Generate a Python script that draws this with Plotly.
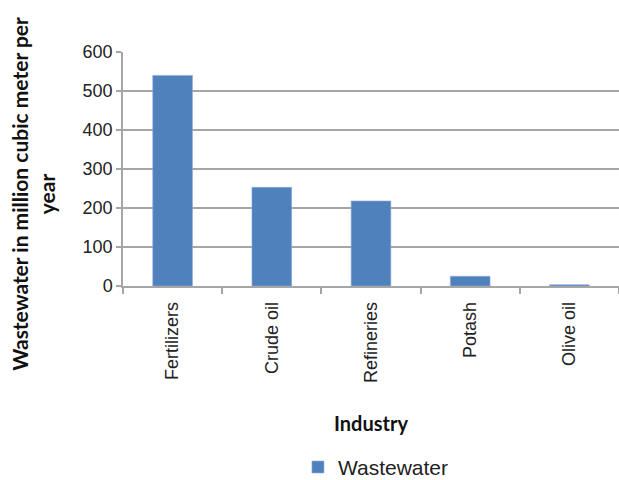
import plotly.graph_objects as go

industries = ["Fertilizers", "Crude oil", "Refineries", "Potash", "Olive oil"]
wastewater = [540, 253, 218, 25, 3]
y_ticks = [0, 100, 200, 300, 400, 500, 600]

grid = "#A6A6A6"
fig = go.Figure()
fig.add_trace(go.Bar(
    x=industries, y=wastewater, name="Wastewater",
    marker=dict(color="#4F81BD", line=dict(color="#8EAADB", width=0.6)),
    showlegend=True,
))
fig.update_layout(
    width=619, height=480,
    margin=dict(l=123, r=0, t=52, b=194, autoexpand=False),
    plot_bgcolor="white", paper_bgcolor="white",
    bargap=0.6,
    font=dict(family="Liberation Sans, Arial", size=18, color="#222222"),
    xaxis=dict(
        type="category", tickangle=-90, showline=True, linecolor=grid, linewidth=1.5,
        ticks="outside", tickson="boundaries", ticklen=6, tickcolor=grid, tickwidth=1.5,
        showgrid=False, range=[-0.5, 4.5], ticklabelstandoff=7,
        tickfont=dict(size=18, color="#222222"),
    ),
    yaxis=dict(
        range=[0, 600], tickvals=y_ticks, showline=True, linecolor=grid, linewidth=1.5,
        ticks="outside", ticklen=5, tickcolor=grid, tickwidth=1.5,
        showgrid=True, gridcolor=grid, gridwidth=1.5, zeroline=False,
        tickfont=dict(size=18, color="#222222"),
    ),
    legend=dict(
        orientation="h", x=0.51, xanchor="center", y=-0.775, yanchor="middle",
        font=dict(size=21, color="#222222"), itemwidth=30,
    ),
    annotations=[
        dict(text="<b>Industry</b>", xref="paper", yref="paper", x=0.5, y=-0.585,
             xanchor="center", yanchor="middle", showarrow=False,
             font=dict(family="Lato, Open Sans", size=20, color="#111111")),
        dict(text="<b>Wastewater in million cubic meter per<br>year</b>", xref="paper", yref="paper",
             x=-0.183, y=0.395, xanchor="center", yanchor="middle", showarrow=False,
             textangle=-90, font=dict(family="Lato, Open Sans", size=21, color="#111111")),
    ],
)
fig.write_html("out.html")
